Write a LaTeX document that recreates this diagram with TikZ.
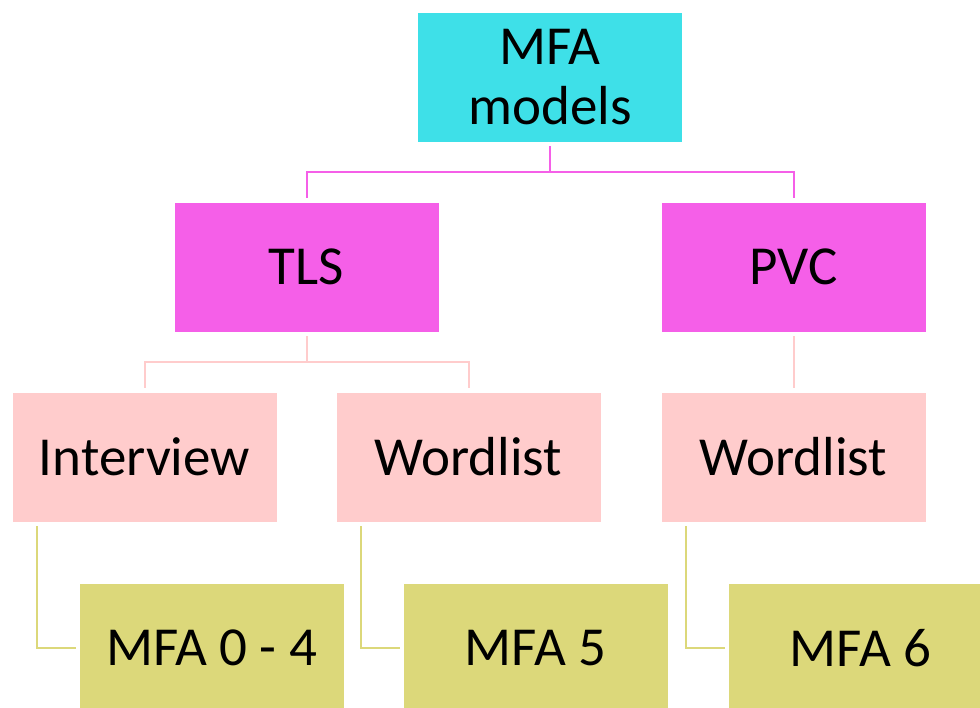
\documentclass[tikz,border=0pt]{standalone}
\usepackage{fontspec}
\setmainfont{Carlito}
\definecolor{cyanbox}{HTML}{3EE0E8}
\definecolor{magbox}{HTML}{F55FE8}
\definecolor{pinkbox}{HTML}{FFCCCC}
\definecolor{olivebox}{HTML}{DCD87A}
\tikzset{
  box/.style={rectangle, minimum width=265pt, minimum height=130pt, inner sep=0pt, draw=white, line width=0.6pt, align=center, font=\fontsize{55}{60}\selectfont},
  lvlzero/.style={box, fill=cyanbox},
  lvlone/.style={box, fill=magbox},
  lvltwo/.style={box, fill=pinkbox},
  lvlthree/.style={box, fill=olivebox},
  mline/.style={draw=magbox, line width=2pt},
  pline/.style={draw=pinkbox, line width=2pt},
  oline/.style={draw=olivebox, line width=2pt},
}
\begin{document}
\begin{tikzpicture}[x=1pt,y=-1pt]
\useasboundingbox (0,0) rectangle (980,708);
\clip (0,0) rectangle (980,708);
\node[lvlzero] (m) at (550,77) {MFA\\models};
\node[lvlone] (tls) at (306.5,267) {TLS};
\node[lvlone] (pvc) at (793.5,267) {PVC};
\node[lvltwo] (int) at (144.5,457) {Interview};
\node[lvltwo] (wl) at (468.5,457) {Wordlist};
\node[lvltwo] (wlb) at (793.5,457) {Wordlist};
\node[lvlthree] (m04) at (211.5,648) {MFA 0 - 4};
\node[lvlthree] (m5) at (535.5,648) {MFA 5};
\node[lvlthree] (m6) at (860.5,648) {MFA 6};
\coordinate (j1) at (550,172);
\coordinate (j2) at (306.5,362);
\draw[mline] ([yshift=-4pt]m.south) -- (j1) -| ([yshift=4pt]tls.north);
\draw[mline] (j1) -| ([yshift=4pt]pvc.north);
\draw[pline] ([yshift=-4pt]tls.south) -- (j2) -| ([yshift=4pt]int.north);
\draw[pline] (j2) -| ([yshift=4pt]wl.north);
\draw[pline] ([yshift=-4pt]pvc.south) -- ([yshift=4pt]wlb.north);
\draw[oline] ([xshift=25pt,yshift=-4pt]int.south west) |- ([xshift=-3pt]m04.west);
\draw[oline] ([xshift=25pt,yshift=-4pt]wl.south west) |- ([xshift=-3pt]m5.west);
\draw[oline] ([xshift=25pt,yshift=-4pt]wlb.south west) |- ([xshift=-3pt]m6.west);
\end{tikzpicture}
\end{document}
